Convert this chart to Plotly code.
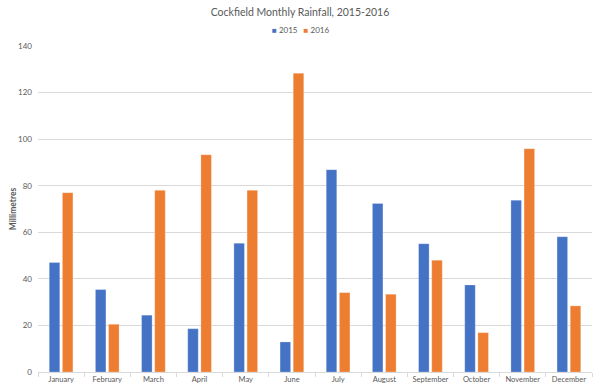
import plotly.graph_objects as go

months = ["January", "February", "March", "April", "May", "June", "July",
          "August", "September", "October", "November", "December"]
rain_2015 = [47.0, 35.4, 24.4, 18.6, 55.3, 12.9, 86.9, 72.4, 55.1, 37.4, 73.8, 58.1]
rain_2016 = [77.0, 20.5, 78.0, 93.3, 78.0, 128.3, 34.1, 33.4, 48.0, 16.9, 95.9, 28.4]
y_ticks = [0, 20, 40, 60, 80, 100, 120, 140]
series_names = ["2015", "2016"]

FONT = "Lato, Carlito, Calibri, sans-serif"
GREY = "#595959"
BLUE = "#4472C4"
ORANGE = "#ED7D31"

fig = go.Figure()
fig.add_trace(go.Bar(name=series_names[0], x=months, y=rain_2015, marker_color=BLUE,
                     marker_line=dict(color="rgba(255,255,255,0.5)", width=0.5)))
fig.add_trace(go.Bar(name=series_names[1], x=months, y=rain_2016, marker_color=ORANGE,
                     marker_line=dict(color="rgba(255,255,255,0.5)", width=0.5)))

# compact legend drawn as text
NB = "\u00a0"
sw = "<span style='color:{c};font-size:8px'>■</span>"
legend_text = (sw.format(c=BLUE) + NB + series_names[0] + NB * 3 +
               sw.format(c=ORANGE) + NB + series_names[1])
fig.add_annotation(text=legend_text, xref="paper", yref="paper",
                   x=(300 - 38) / 554, y=1 + (46 - 30) / 326,
                   xanchor="center", yanchor="middle", showarrow=False,
                   font=dict(family=FONT, size=8, color=GREY))

fig.update_layout(
    width=600, height=388,
    margin=dict(l=38, r=8, t=46, b=16, autoexpand=False),
    paper_bgcolor="white", plot_bgcolor="white",
    barmode="group", bargap=0.43, bargroupgap=0.2,
    font=dict(family=FONT, color=GREY, size=9),
    title=dict(text="Cockfield Monthly Rainfall, 2015-2016", x=0.5, xanchor="center",
               y=1 - 12 / 388, yref="container", yanchor="middle",
               font=dict(family=FONT, size=10.5, color=GREY)),
    showlegend=False,
)
fig.update_yaxes(range=[0, 140], tickvals=y_ticks, showgrid=True, gridcolor="#D9D9D9",
                 gridwidth=1, zeroline=False, showline=False, ticks="", automargin=False,
                 tickfont=dict(size=8, color=GREY), ticklabelstandoff=5,
                 title=dict(text="<b>Millimetres</b>", font=dict(size=8.5, color=GREY), standoff=0))
fig.update_xaxes(showline=True, linecolor="#D9D9D9", linewidth=1, tickson="boundaries",
                 ticks="outside", ticklen=4, tickcolor="#D9D9D9", tickangle=0, automargin=False,
                 tickfont=dict(size=7.5, color=GREY), showgrid=False)

fig.write_html("out.html", config={"displayModeBar": False},
               post_script="document.body.style.margin='0';")
